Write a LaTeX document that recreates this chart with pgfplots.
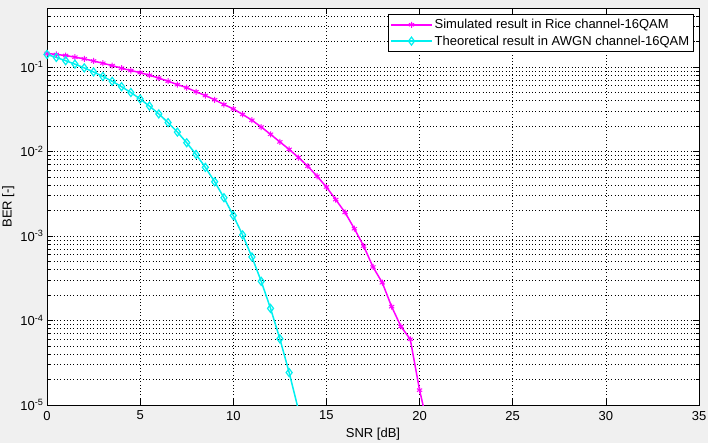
\documentclass[border=0pt]{standalone}
\usepackage{fontspec}
\setmainfont{Liberation Sans}
\usepackage{pgfplots}
\pgfplotsset{compat=1.18}
\definecolor{bg}{RGB}{240,240,240}
\definecolor{mag}{RGB}{255,0,255}
\definecolor{cyn}{RGB}{0,240,240}
\newcommand\f{\fontsize{13bp}{15bp}\selectfont}
\begin{document}
\begin{tikzpicture}
\fill[bg] (0,0) rectangle (708bp,443bp);
\begin{axis}[
  at={(47bp,38bp)}, anchor=south west,
  scale only axis, width=652bp, height=397bp,
  xmin=0, xmax=35, ymode=log, ymin=1e-5, ymax=0.5,
  xtick={0,5,...,35},
  ytick={1e-5,1e-4,1e-3,1e-2,1e-1},
  yticklabels={10\textsuperscript{-5},10\textsuperscript{-4},10\textsuperscript{-3},10\textsuperscript{-2},10\textsuperscript{-1}},
  minor ytick={2e-5,3e-5,4e-5,5e-5,6e-5,7e-5,8e-5,9e-5,
               2e-4,3e-4,4e-4,5e-4,6e-4,7e-4,8e-4,9e-4,
               2e-3,3e-3,4e-3,5e-3,6e-3,7e-3,8e-3,9e-3,
               2e-2,3e-2,4e-2,5e-2,6e-2,7e-2,8e-2,9e-2,
               0.2,0.3,0.4,0.5},
  ymajorgrids, yminorgrids, xmajorgrids,
  major grid style={black, line width=0.7bp, dash pattern=on 0.7bp off 2.6bp},
  minor grid style={black, line width=0.7bp, dash pattern=on 0.7bp off 2.6bp},
  tick align=inside,
  major tick length=6bp, minor tick length=3bp,
  tick style={black, line width=0.6bp},
  axis line style={black, line width=0.8bp},
  axis background/.style={fill=white},
  /pgf/number format/assume math mode=true,
  tick label style={font=\f},
  xticklabel style={yshift=-2.4bp},
  xlabel={SNR [dB]}, ylabel={BER [-]},
  label style={font=\f},
  xlabel style={at={(axis description cs:0.5,-0.058)}, anchor=north, inner sep=0pt},
  ylabel style={at={(axis description cs:-0.05,0.5)}, anchor=south, inner sep=0pt},
  legend style={font=\f, at={(1,1)}, anchor=north east, xshift=-5bp, yshift=-6bp,
    draw=black, line width=0.6bp, fill=white, inner xsep=2.5bp, inner ysep=3bp, row sep=1.5bp},
  legend cell align=left,
  legend image code/.code={\draw[mark repeat=2,mark phase=2] plot coordinates {(0cm,0cm) (0.72cm,0cm) (1.44cm,0cm)};},
]
\addplot[mag, line width=1.5bp, mark=asterisk, mark size=3bp, mark options={line width=1bp}] coordinates {
(0,0.145)(0.5,0.141)(1,0.137)(1.5,0.131)(2,0.125)(2.5,0.118)(3,0.111)(3.5,0.104)
(4,0.097)(4.5,0.091)(5,0.086)(5.5,0.080)(6,0.074)(6.5,0.068)(7,0.062)(7.5,0.057)
(8,0.051)(8.5,0.046)(9,0.041)(9.5,0.036)(10,0.032)(10.5,0.0275)(11,0.0235)(11.5,0.0195)
(12,0.016)(12.5,0.013)(13,0.0106)(13.5,0.0085)(14,0.0067)(14.5,0.0051)(15,0.0038)
(15.5,0.0027)(16,0.0019)(16.5,0.00122)(17,0.00076)(17.5,0.00043)(18,0.00028)
(18.5,0.000146)(19,8.5e-5)(19.5,6.0e-5)(20,1.5e-5)(20.5,5e-6)
};
\addlegendentry{Simulated result in Rice channel-16QAM}
\addplot[cyn, line width=1.5bp, mark=diamond, mark size=4bp, mark options={line width=1.2bp}] coordinates {
(0,0.1410)(0.5,0.1299)(1,0.1190)(1.5,0.1083)(2,0.0978)(2.5,0.0875)(3,0.0774)(3.5,0.0678)
(4,0.0586)(4.5,0.0500)(5,0.0419)(5.5,0.0345)(6,0.0279)(6.5,0.0220)(7,0.0170)(7.5,0.0127)
(8,0.00925)(8.5,0.00650)(9,0.00439)(9.5,0.00284)(10,0.00175)(10.5,0.00103)(11,0.000565)
(11.5,0.000291)(12,0.000139)(12.5,6.08e-5)(13,2.42e-5)(13.5,8.7e-6)
};
\addlegendentry{Theoretical result in AWGN channel-16QAM}
\end{axis}
\pgfresetboundingbox
\path (0,0) rectangle (708bp,443bp);
\end{tikzpicture}
\end{document}
